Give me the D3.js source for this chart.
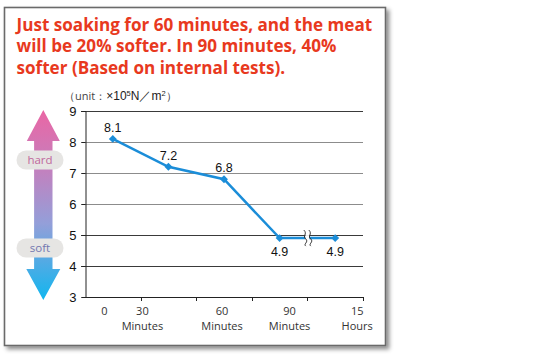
<!DOCTYPE html>
<html>
<head>
<meta charset="utf-8">
<script src="https://cdn.jsdelivr.net/npm/d3@7"></script>
<style>
  html, body { margin: 0; padding: 0; background: #fff; }
  svg { display: block; }
</style>
</head>
<body>
<svg id="chart" width="560" height="362"></svg>
<script>
// ---------- data ----------
const titleLines = [
  "Just soaking for 60 minutes, and the meat",
  "will be 20% softer. In 90 minutes, 40%",
  "softer (Based on internal tests)."
];
const categories = ["0", "30 Minutes", "60 Minutes", "90 Minutes", "15 Hours"];
const values = [8.1, 7.2, 6.8, 4.9, 4.9];
const valueLabels = ["8.1", "7.2", "6.8", "4.9", "4.9"];
const tickTop = ["0", "30", "60", "90", "15"];
const tickBottom = ["", "Minutes", "Minutes", "Minutes", "Hours"];
const yTicks = [3, 4, 5, 6, 7, 8, 9];
const hardLabel = "hard";
const softLabel = "soft";

// ---------- layout ----------
const W = 560, H = 362;
const plot = { left: 85, right: 363, top: 111, bottom: 297 };
const labelNudge = [-8.5, -26, -2, 10, 22];   // x-label offsets from band centres
const valueLabelAbove = [true, true, true, false, false];

const svg = d3.select("#chart");

const defs = svg.append("defs");
const f = defs.append("filter").attr("id", "shadow")
  .attr("x", "-5%").attr("y", "-5%").attr("width", "115%").attr("height", "115%");
f.append("feDropShadow").attr("dx", 3).attr("dy", 3).attr("stdDeviation", 2)
  .attr("flood-color", "#000").attr("flood-opacity", 0.45);

const grad = defs.append("linearGradient").attr("id", "arrowGrad")
  .attr("x1", 0).attr("y1", 0).attr("x2", 0).attr("y2", 1);
grad.append("stop").attr("offset", "0%").attr("stop-color", "#ea66a4");
grad.append("stop").attr("offset", "30%").attr("stop-color", "#c57fbd");
grad.append("stop").attr("offset", "60%").attr("stop-color", "#939fd9");
grad.append("stop").attr("offset", "100%").attr("stop-color", "#11b6ef");

// frame
svg.append("rect").attr("x", 4.5).attr("y", 7.5).attr("width", 381).attr("height", 338)
  .attr("fill", "#fff").attr("stroke", "#6b6b6b").attr("stroke-width", 1.6)
  .attr("filter", "url(#shadow)");

// title
const title = svg.append("text")
  .attr("font-family", "'Open Sans', sans-serif").attr("font-weight", 700)
  .attr("font-size", 17.1).attr("fill", "#e8391e");
titleLines.forEach((t, i) => {
  title.append("tspan").attr("x", 16.5).attr("y", 30.5 + i * 21.5).text(t);
});

// scales
const x = d3.scaleBand().domain(categories).range([plot.left, plot.right]).padding(0);
const y = d3.scaleLinear().domain([3, 9]).range([plot.bottom, plot.top]);
const xc = c => x(c) + x.bandwidth() / 2;

// gridlines
svg.append("g").selectAll("line").data(yTicks.filter(v => v > 3)).join("line")
  .attr("x1", plot.left - 4).attr("x2", plot.right)
  .attr("y1", d => Math.round(y(d)) + 0.5).attr("y2", d => Math.round(y(d)) + 0.5)
  .attr("stroke", d => (d >= 6 && d <= 8) ? "#8c8c8c" : "#3a3a3a")
  .attr("stroke-width", 1);

// y axis
const yAxis = svg.append("g").attr("transform", `translate(${plot.left + 0.5},0)`)
  .call(d3.axisLeft(y).tickValues(yTicks).tickSize(4).tickPadding(5).tickFormat(d3.format("d")));
yAxis.select(".domain").attr("stroke", "#222");
yAxis.selectAll(".tick line").attr("stroke", "#222");
yAxis.selectAll(".tick text").attr("font-family", "'Liberation Sans', Arial, sans-serif")
  .attr("font-size", 13).attr("fill", "#111");

// x axis
const xAxis = svg.append("g").attr("transform", `translate(0,${plot.bottom + 0.5})`)
  .call(d3.axisBottom(x).tickSize(0).tickFormat(""));
xAxis.select(".domain").remove();
svg.append("line").attr("x1", plot.left).attr("x2", plot.right)
  .attr("y1", plot.bottom + 0.5).attr("y2", plot.bottom + 0.5).attr("stroke", "#222");
// band-edge ticks
const edges = categories.map(c => x(c) + x.bandwidth());
svg.append("g").selectAll("line").data(edges).join("line")
  .attr("x1", d => Math.round(d) + 0.5).attr("x2", d => Math.round(d) + 0.5)
  .attr("y1", plot.bottom).attr("y2", plot.bottom + 4).attr("stroke", "#222");

// x labels
const xl = svg.append("g").attr("font-family", "'Open Sans', sans-serif")
  .attr("font-size", 11).attr("fill", "#333").attr("text-anchor", "middle");
categories.forEach((c, i) => {
  xl.append("text").attr("x", xc(c) + labelNudge[i]).attr("y", 315).text(tickTop[i]);
  if (tickBottom[i]) xl.append("text").attr("x", xc(c) + labelNudge[i]).attr("y", 329.5).text(tickBottom[i]);
});

// line
const line = d3.line().x((d, i) => xc(categories[i])).y(d => y(d));
svg.append("path").datum(values).attr("d", line)
  .attr("fill", "none").attr("stroke", "#1b8dd8").attr("stroke-width", 2.5);

// break marker between 4th and 5th
{
  const bx = x(categories[3]) + x.bandwidth();
  const by = y(values[3]);
  svg.append("rect").attr("x", bx - 2).attr("y", by - 3).attr("width", 4).attr("height", 6).attr("fill", "#fff");
  const wave = dx => `M${bx + dx - 1},${by - 8} C${bx + dx + 3},${by - 4} ${bx + dx - 3},${by - 2} ${bx + dx + 1},${by + 1} C${bx + dx + 4},${by + 4} ${bx + dx - 2},${by + 6} ${bx + dx + 1},${by + 8}`;
  [-2.5, 2.5].forEach(dx => svg.append("path").attr("d", wave(dx))
    .attr("fill", "none").attr("stroke", "#333").attr("stroke-width", 1));
}

// markers
svg.append("g").selectAll("path").data(values).join("path")
  .attr("d", d3.symbol().type(d3.symbolDiamond2).size(40))
  .attr("transform", (d, i) => `translate(${xc(categories[i])},${y(d)})`)
  .attr("fill", "#1b8dd8");

// value labels
svg.append("g").selectAll("text").data(values).join("text")
  .attr("x", (d, i) => xc(categories[i]))
  .attr("y", (d, i) => y(d) + (valueLabelAbove[i] ? -7 : 18))
  .attr("text-anchor", "middle")
  .attr("font-family", "'Liberation Sans', Arial, sans-serif").attr("font-size", 12.5)
  .attr("fill", "#111")
  .text((d, i) => valueLabels[i]);

// unit label
const unit = svg.append("text").attr("x", 64).attr("y", 100)
  .attr("font-family", "'Liberation Sans', Arial, sans-serif").attr("font-size", 12).attr("fill", "#222");
unit.append("tspan").attr("fill", "#444").attr("font-size", 11).attr("font-family", "'Open Sans', sans-serif").text("（unit：");
unit.append("tspan").text("×10");
unit.append("tspan").attr("font-size", 7.5).attr("dy", -4).text("5");
unit.append("tspan").attr("dy", 4).text("N／m");
unit.append("tspan").attr("font-size", 7.5).attr("dy", -4).text("2");
unit.append("tspan").attr("dy", 4).attr("fill", "#444").attr("font-size", 11).attr("font-family", "'Open Sans', sans-serif").text("）");

// hard/soft arrow (positions tied to y scale)
{
  const cx = 43.3;
  const topY = y(9) - 1, headTopBase = y(8) - 1;
  const botY = y(3) + 3, headBotBase = y(4) + 3;
  const sw = 9.2, hw = 16.5;
  const p = d3.path();
  p.moveTo(cx, topY);
  p.lineTo(cx + hw, headTopBase);
  p.lineTo(cx + sw, headTopBase);
  p.lineTo(cx + sw, headBotBase);
  p.lineTo(cx + hw + 0.5, headBotBase);
  p.lineTo(cx, botY);
  p.lineTo(cx - hw - 0.5, headBotBase);
  p.lineTo(cx - sw, headBotBase);
  p.lineTo(cx - sw, headTopBase);
  p.lineTo(cx - hw, headTopBase);
  p.closePath();
  svg.append("path").attr("d", p.toString()).attr("fill", "url(#arrowGrad)");

  const pill = (cy, label, color) => {
    svg.append("rect").attr("x", 16.5).attr("y", cy - 9.5).attr("width", 47).attr("height", 19)
      .attr("rx", 9.5).attr("fill", "#e6e5e3");
    svg.append("text").attr("x", 40).attr("y", cy + 4).attr("text-anchor", "middle")
      .attr("font-family", "'Open Sans', sans-serif").attr("font-size", 11.5)
      .attr("fill", color).text(label);
  };
  pill(y(7.42), hardLabel, "#c0679c");
  pill(y(4.58), softLabel, "#7377b0");
}
</script>
</body>
</html>
